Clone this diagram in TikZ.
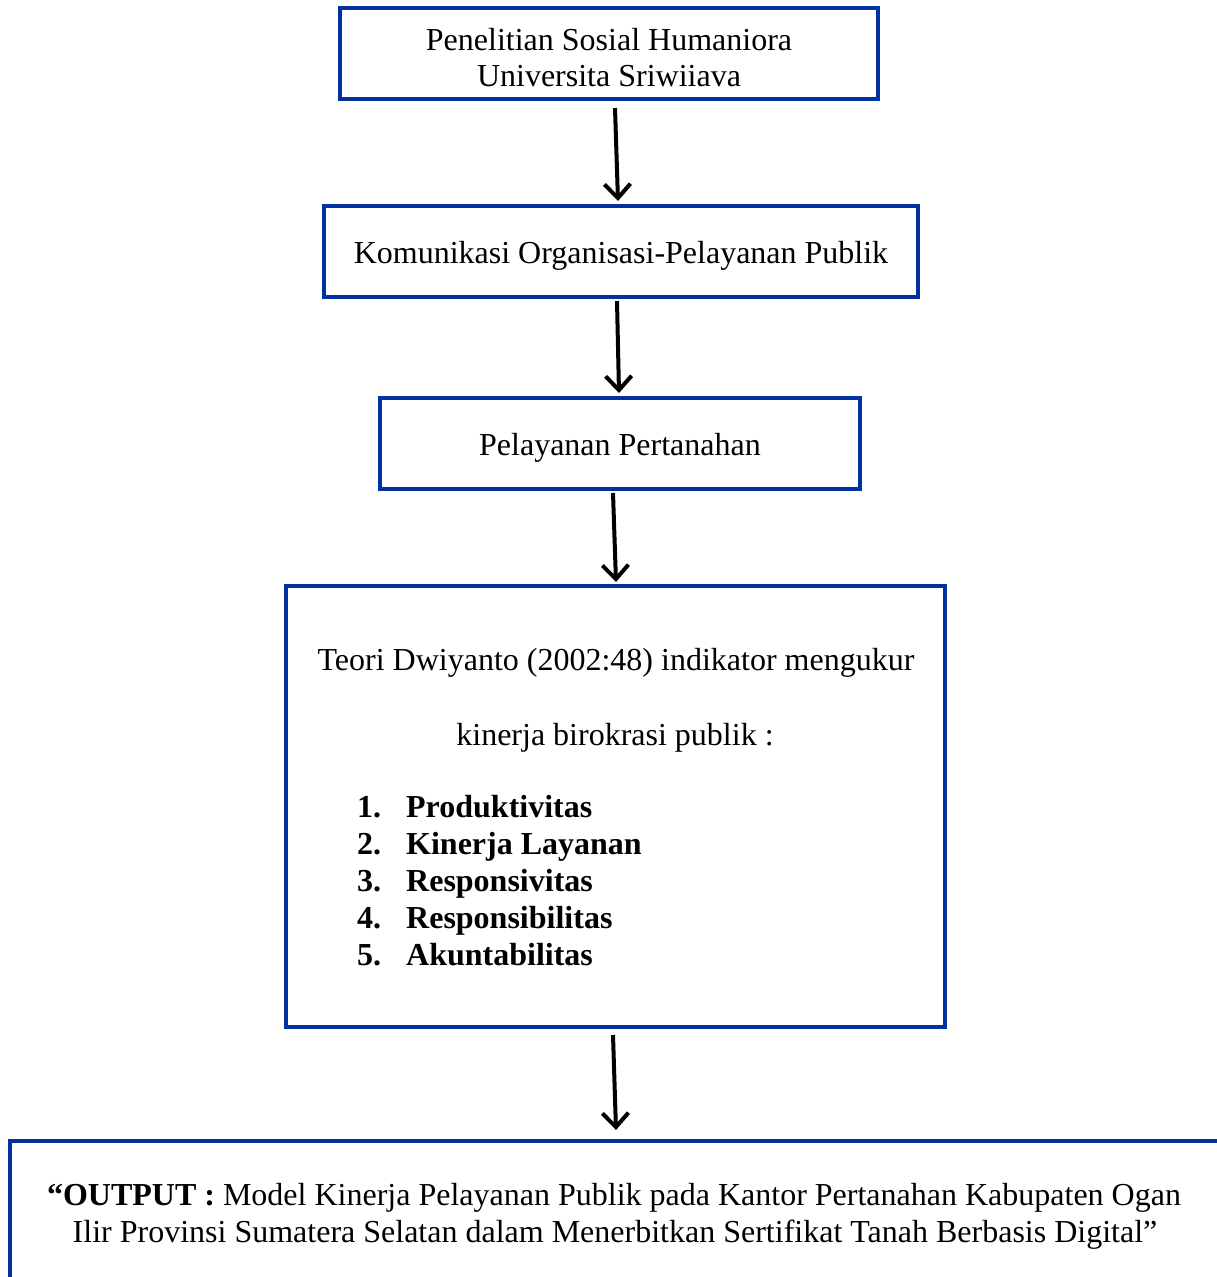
\documentclass[tikz,border=0pt]{standalone}
\usepackage{fontspec}
\setmainfont{Liberation Serif}
\usetikzlibrary{arrows.meta}
\definecolor{boxblue}{RGB}{0,51,160}
\begin{document}
\begin{tikzpicture}[x=1pt,y=-1pt,
  box/.style={draw=boxblue,line width=4pt,rectangle,inner sep=0pt},
  txt/.style={inner sep=0pt,align=center,font=\fontsize{32}{36}\selectfont},
  bitem/.style={inner sep=0pt,anchor=base west,font=\fontsize{32}{36}\selectfont\bfseries},
  arr/.style={line width=4pt,-{Straight Barb[length=14pt,width=26pt,line width=4pt]}}]
\useasboundingbox (0,0) rectangle (1216,1277);
\fill[white] (0,0) rectangle (1216,1277);
\node[box,minimum width=538pt,minimum height=91pt] (b1) at (609,53.5) {};
\node[txt] (t1) at ([yshift=-4pt]b1.center) {Penelitian Sosial Humaniora\\Universita Sriwiiava};
\node[box,minimum width=594pt,minimum height=91pt] (b2) at (621,251.5) {};
\node[txt] (t2) at ([yshift=-4pt]b2.center) {Komunikasi Organisasi-Pelayanan Publik};
\node[box,minimum width=480pt,minimum height=91pt] (b3) at (620,443.5) {};
\node[txt] (t3) at ([yshift=-4pt]b3.center) {Pelayanan Pertanahan};
\node[box,minimum width=659pt,minimum height=441pt] (b4) at (615.5,806.5) {};
\node[txt,anchor=base] (t4a) at (616,670) {Teori Dwiyanto (2002:48) indikator mengukur};
\node[txt,anchor=base] (t4b) at (615,745) {kinerja birokrasi publik :};
\node[bitem] (l1) at (357,817) {\makebox[49pt][l]{1.}Produktivitas};
\node[bitem] (l2) at (357,854) {\makebox[49pt][l]{2.}Kinerja Layanan};
\node[bitem] (l3) at (357,891) {\makebox[49pt][l]{3.}Responsivitas};
\node[bitem] (l4) at (357,928) {\makebox[49pt][l]{4.}Responsibilitas};
\node[bitem] (l5) at (357,965) {\makebox[49pt][l]{5.}Akuntabilitas};
\node[box,minimum width=1220pt,minimum height=149pt] (b5) at (620,1215.5) {};
\node[txt,anchor=base] (t5a) at (614,1205)
  {\textbf{“OUTPUT :} Model Kinerja Pelayanan Publik pada Kantor Pertanahan Kabupaten Ogan};
\node[txt,anchor=base] (t5b) at (615,1242)
  {Ilir Provinsi Sumatera Selatan dalam Menerbitkan Sertifikat Tanah Berbasis Digital”};
\draw[arr] ([xshift=6pt,yshift=-7pt]b1.south) -- ([xshift=-3pt,yshift=3pt]b2.north);
\draw[arr] ([xshift=-4pt,yshift=-2pt]b2.south) -- ([xshift=-1pt,yshift=3pt]b3.north);
\draw[arr] ([xshift=-7pt,yshift=-2pt]b3.south) -- ([xshift=0.5pt,yshift=2pt]b4.north);
\draw[arr] ([xshift=-2.5pt,yshift=-6pt]b4.south) -- ([xshift=-4pt,yshift=9pt]b5.north);
\end{tikzpicture}
\end{document}
